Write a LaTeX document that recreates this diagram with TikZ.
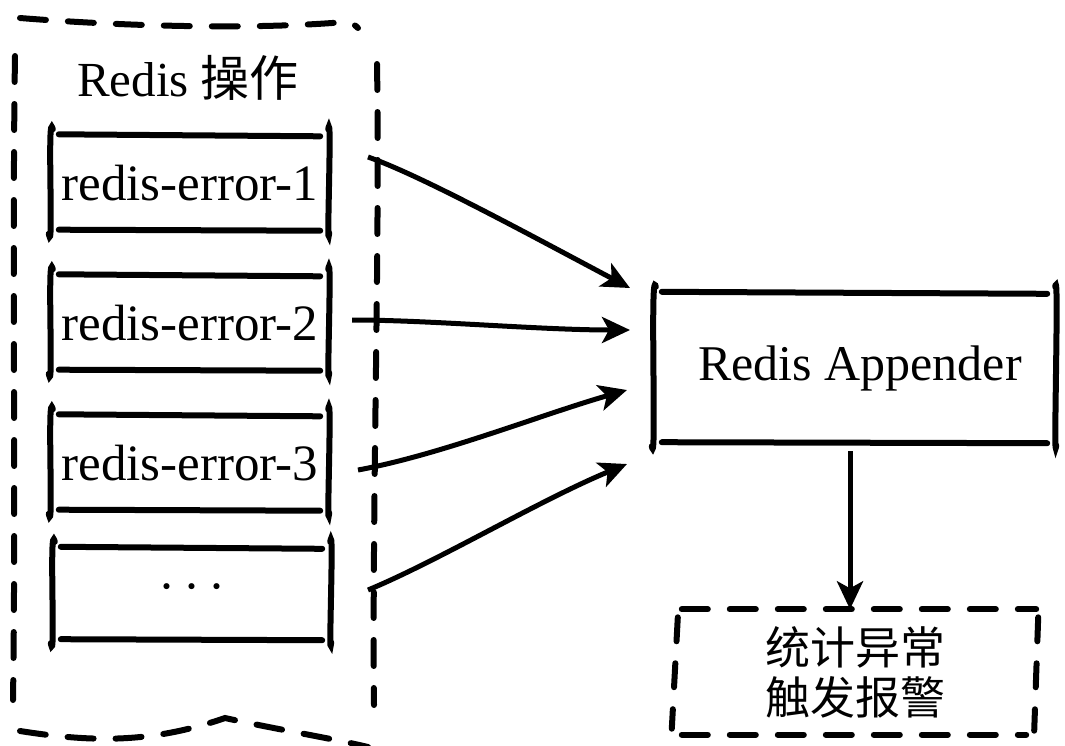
\documentclass[tikz,border=0pt]{standalone}
\usepackage{fontspec}
\setmainfont{Liberation Serif}
\newfontfamily\cjk{Noto Sans CJK SC}[Scale=1]
\usetikzlibrary{arrows.meta}
\tikzset{
  stroke/.style={line width=6pt,line cap=round},
  dstroke/.style={line width=6pt,line cap=round,dash pattern=on 26pt off 22pt},
  box/.style={rectangle,inner sep=0pt,font=\fontsize{51}{54}\selectfont},
  conn/.style={line width=5pt,-{Stealth[length=28pt,width=26pt,inset=7pt]}},
}
\newcommand{\skbox}[1]{%
  \draw[stroke] ([shift={(8,-1)}]#1.north west) -- ([shift={(-9,1)}]#1.north east);
  \draw[stroke] ([shift={(8,-1)}]#1.south west) -- ([shift={(-9,0)}]#1.south east);
  \draw[stroke] ([shift={(2,-6)}]#1.north west) .. controls ([shift={(-4,-30)}]#1.north west) and ([shift={(3,30)}]#1.south west) .. ([shift={(-2,3)}]#1.south west);
  \draw[stroke] ([shift={(-1,-6)}]#1.north east) .. controls ([shift={(3,-30)}]#1.north east) and ([shift={(-3,30)}]#1.south east) .. ([shift={(0,2)}]#1.south east);
}
\begin{document}
\begin{tikzpicture}[x=1pt,y=-1pt]
\useasboundingbox (0,0) rectangle (1065,745);
% outer dashed container
\draw[dstroke] (20,18) .. controls (120,26) and (250,30) .. (345,22) .. controls (352,23) and (355,25) .. (358,28);
\draw[dstroke] (15,56) .. controls (12,250) and (16,500) .. (13,700);
\draw[dstroke] (377,64) .. controls (380,250) and (372,500) .. (374,705);
\draw[dstroke] (20,731) .. controls (90,742) and (150,744) .. (225,718) .. controls (280,730) and (330,738) .. (368,747);
\node[box,font=\fontsize{49}{52}\selectfont] (title) at (188,78) {Redis \cjk 操作};
% error boxes
\node[box,minimum width=278,minimum height=95] (e1) at (190,183) {redis-error-1};
\node[box,minimum width=278,minimum height=95] (e2) at (190,323) {redis-error-2};
\node[box,minimum width=278,minimum height=95] (e3) at (190,463) {redis-error-3};
\node[box,minimum width=278,minimum height=92] (e4) at (192,594) {\raisebox{0.02em}{·\hspace{0.15em}·\hspace{0.15em}·}};
\skbox{e1}\skbox{e2}\skbox{e3}\skbox{e4}
% appender
\node[box,minimum width=402,minimum height=150,font=\fontsize{50}{53}\selectfont] (app) at (855,368) {\hspace*{10pt}Redis Appender};
\skbox{app}
% alarm box
\node[box,minimum width=362,minimum height=125,font=\cjk\fontsize{45}{50}\selectfont,align=center] (alarm) at (855,672) {统计异常\\触发报警};
\draw[dstroke] ([shift={(8,0)}]alarm.north west) -- (alarm.north east);
\draw[dstroke] ([shift={(8,0)}]alarm.south west) -- ([shift={(-10,0)}]alarm.south east);
\draw[dstroke,dash pattern=on 24pt off 22pt] ([shift={(4,8)}]alarm.north west) -- ([shift={(-2,-6)}]alarm.south west);
\draw[dstroke,dash pattern=on 24pt off 22pt] ([shift={(2,8)}]alarm.north east) -- ([shift={(-2,-4)}]alarm.south east);
% arrow start coordinates
\coordinate (s1) at (368,157);
\coordinate (s2) at (352,320);
\coordinate (s3) at (358,470);
\coordinate (s4) at (368,590);
\coordinate (t1) at (630,288);
\coordinate (t2) at (630,330);
\coordinate (t3) at (627,390);
\coordinate (t4) at (627,464);
\draw[conn] (s1) .. controls (420,175) and (530,235) .. (t1);
\draw[conn] (s2) .. controls (430,320) and (540,330) .. (t2);
\draw[conn] (s3) .. controls (440,455) and (540,415) .. (t3);
\draw[conn] (s4) .. controls (440,560) and (540,500) .. (t4);
\draw[conn] ([shift={(-5,8)}]app.south) -- ([shift={(-5,0)}]alarm.north);
\end{tikzpicture}
\end{document}
